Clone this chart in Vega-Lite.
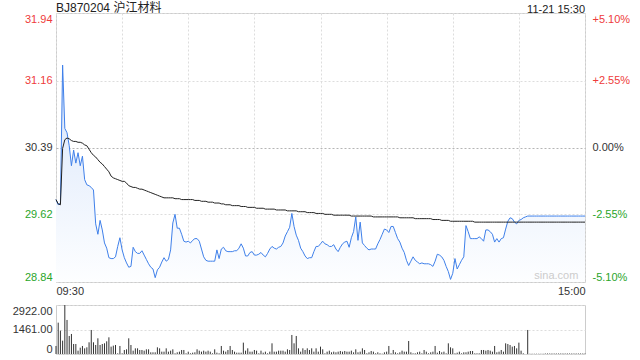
{
  "$schema": "https://vega.github.io/schema/vega-lite/v6.json",
  "background": "white",
  "padding": {"left": 11, "top": 1, "right": 5, "bottom": 2},
  "spacing": 7,
  "config": {
    "view": {"stroke": "#cccccc"},
    "font": "Liberation Sans",
    "axis": {"labelFont": "Liberation Sans", "labelFontSize": 11, "labelColor": "#333333", "ticks": false, "domain": false, "gridColor": "#dddddd", "gridDash": [2, 2]}
  },
  "data": {"values": [
    {"t":0,"p":29.79,"a":29.79,"v":478},{"t":1,"p":29.73,"a":29.74,"v":1870},{"t":2,"p":29.75,"a":29.73,"v":1393},{"t":3,"p":31.34,"a":30.38,"v":796},{"t":4,"p":30.61,"a":30.48,"v":2922},
    {"t":5,"p":30.56,"a":30.50,"v":2030},{"t":6,"p":30.41,"a":30.49,"v":1075},{"t":7,"p":30.18,"a":30.47,"v":1194},{"t":8,"p":30.36,"a":30.46,"v":597},{"t":9,"p":30.21,"a":30.46,"v":597},
    {"t":10,"p":30.33,"a":30.45,"v":199},{"t":11,"p":30.18,"a":30.45,"v":378},{"t":12,"p":30.29,"a":30.44,"v":478},{"t":13,"p":30.02,"a":30.42,"v":338},{"t":14,"p":29.96,"a":30.41,"v":398},
    {"t":15,"p":29.95,"a":30.37,"v":697},{"t":16,"p":29.93,"a":30.33,"v":1433},{"t":17,"p":29.90,"a":30.30,"v":697},{"t":18,"p":29.51,"a":30.28,"v":537},{"t":19,"p":29.39,"a":30.25,"v":935},
    {"t":20,"p":29.55,"a":30.22,"v":537},{"t":21,"p":29.44,"a":30.20,"v":597},{"t":22,"p":29.29,"a":30.17,"v":637},{"t":23,"p":29.23,"a":30.14,"v":756},{"t":24,"p":29.12,"a":30.11,"v":995},
    {"t":25,"p":29.11,"a":30.06,"v":438},{"t":26,"p":29.11,"a":30.04,"v":498},{"t":27,"p":29.13,"a":30.03,"v":537},{"t":28,"p":29.25,"a":30.02,"v":40},{"t":29,"p":29.35,"a":30.01,"v":478},
    {"t":30,"p":29.21,"a":30.00,"v":40},{"t":31,"p":29.12,"a":30.00,"v":239},{"t":32,"p":29.06,"a":29.98,"v":279},{"t":33,"p":29.01,"a":29.95,"v":935},{"t":34,"p":29.02,"a":29.94,"v":537},
    {"t":35,"p":29.24,"a":29.93,"v":199},{"t":36,"p":29.19,"a":29.93,"v":338},{"t":37,"p":29.17,"a":29.92,"v":338},{"t":38,"p":29.17,"a":29.91,"v":239},{"t":39,"p":29.20,"a":29.91,"v":239},
    {"t":40,"p":29.15,"a":29.90,"v":199},{"t":41,"p":29.10,"a":29.89,"v":279},{"t":42,"p":29.05,"a":29.88,"v":279},{"t":43,"p":29.01,"a":29.87,"v":100},{"t":44,"p":28.99,"a":29.86,"v":100},
    {"t":45,"p":28.89,"a":29.85,"v":100},{"t":46,"p":28.98,"a":29.84,"v":398},{"t":47,"p":29.01,"a":29.83,"v":338},{"t":48,"p":29.07,"a":29.82,"v":139},{"t":49,"p":29.12,"a":29.81,"v":139},
    {"t":50,"p":29.08,"a":29.81,"v":338},{"t":51,"p":29.10,"a":29.81,"v":139},{"t":52,"p":29.21,"a":29.81,"v":199},{"t":53,"p":29.52,"a":29.81,"v":279},{"t":54,"p":29.62,"a":29.80,"v":40},
    {"t":55,"p":29.46,"a":29.80,"v":100},{"t":56,"p":29.46,"a":29.80,"v":139},{"t":57,"p":29.39,"a":29.79,"v":239},{"t":58,"p":29.31,"a":29.79,"v":239},{"t":59,"p":29.30,"a":29.79,"v":40},
    {"t":60,"p":29.31,"a":29.79,"v":139},{"t":61,"p":29.29,"a":29.79,"v":40},{"t":62,"p":29.32,"a":29.79,"v":80},{"t":63,"p":29.34,"a":29.78,"v":100},{"t":64,"p":29.34,"a":29.78,"v":279},
    {"t":65,"p":29.31,"a":29.78,"v":199},{"t":66,"p":29.22,"a":29.77,"v":139},{"t":67,"p":29.13,"a":29.77,"v":199},{"t":68,"p":29.09,"a":29.77,"v":139},{"t":69,"p":29.08,"a":29.76,"v":199},
    {"t":70,"p":29.08,"a":29.76,"v":139},{"t":71,"p":29.08,"a":29.76,"v":40},{"t":72,"p":29.08,"a":29.75,"v":279},{"t":73,"p":29.21,"a":29.75,"v":80},{"t":74,"p":29.11,"a":29.75,"v":40},
    {"t":75,"p":29.22,"a":29.74,"v":478},{"t":76,"p":29.24,"a":29.74,"v":199},{"t":77,"p":29.20,"a":29.73,"v":139},{"t":78,"p":29.19,"a":29.73,"v":239},{"t":79,"p":29.19,"a":29.73,"v":478},
    {"t":80,"p":29.19,"a":29.72,"v":239},{"t":81,"p":29.20,"a":29.72,"v":139},{"t":82,"p":29.20,"a":29.72,"v":80},{"t":83,"p":29.23,"a":29.72,"v":80},{"t":84,"p":29.28,"a":29.71,"v":80},
    {"t":85,"p":29.23,"a":29.71,"v":677},{"t":86,"p":29.14,"a":29.71,"v":199},{"t":87,"p":29.14,"a":29.70,"v":338},{"t":88,"p":29.18,"a":29.70,"v":139},{"t":89,"p":29.19,"a":29.70,"v":139},
    {"t":90,"p":29.15,"a":29.70,"v":239},{"t":91,"p":29.15,"a":29.69,"v":199},{"t":92,"p":29.16,"a":29.69,"v":40},{"t":93,"p":29.18,"a":29.69,"v":199},{"t":94,"p":29.15,"a":29.69,"v":80},
    {"t":95,"p":29.13,"a":29.68,"v":139},{"t":96,"p":29.17,"a":29.68,"v":40},{"t":97,"p":29.22,"a":29.68,"v":139},{"t":98,"p":29.25,"a":29.68,"v":637},{"t":99,"p":29.23,"a":29.68,"v":139},
    {"t":100,"p":29.22,"a":29.67,"v":139},{"t":101,"p":29.24,"a":29.67,"v":199},{"t":102,"p":29.25,"a":29.67,"v":199},{"t":103,"p":29.29,"a":29.67,"v":199},{"t":104,"p":29.37,"a":29.67,"v":139},
    {"t":105,"p":29.42,"a":29.66,"v":279},{"t":106,"p":29.47,"a":29.66,"v":239},{"t":107,"p":29.63,"a":29.66,"v":1134},{"t":108,"p":29.48,"a":29.66,"v":637},{"t":109,"p":29.38,"a":29.66,"v":1075},
    {"t":110,"p":29.32,"a":29.65,"v":338},{"t":111,"p":29.23,"a":29.65,"v":139},{"t":112,"p":29.19,"a":29.65,"v":338},{"t":113,"p":29.14,"a":29.65,"v":239},{"t":114,"p":29.11,"a":29.64,"v":338},
    {"t":115,"p":29.12,"a":29.64,"v":239},{"t":116,"p":29.12,"a":29.64,"v":338},{"t":117,"p":29.19,"a":29.64,"v":139},{"t":118,"p":29.25,"a":29.63,"v":338},{"t":119,"p":29.25,"a":29.63,"v":139},
    {"t":120,"p":29.28,"a":29.63,"v":438},{"t":121,"p":29.31,"a":29.63,"v":279},{"t":122,"p":29.28,"a":29.62,"v":40},{"t":123,"p":29.27,"a":29.62,"v":139},{"t":124,"p":29.25,"a":29.62,"v":199},
    {"t":125,"p":29.25,"a":29.62,"v":100},{"t":126,"p":29.27,"a":29.61,"v":139},{"t":127,"p":29.22,"a":29.61,"v":100},{"t":128,"p":29.19,"a":29.61,"v":139},{"t":129,"p":29.24,"a":29.61,"v":179},
    {"t":130,"p":29.28,"a":29.61,"v":139},{"t":131,"p":29.30,"a":29.61,"v":179},{"t":132,"p":29.31,"a":29.61,"v":139},{"t":133,"p":29.24,"a":29.61,"v":139},{"t":134,"p":29.35,"a":29.60,"v":199},
    {"t":135,"p":29.42,"a":29.60,"v":100},{"t":136,"p":29.59,"a":29.60,"v":279},{"t":137,"p":29.32,"a":29.60,"v":100},{"t":138,"p":29.53,"a":29.60,"v":139},{"t":139,"p":29.29,"a":29.60,"v":338},
    {"t":140,"p":29.26,"a":29.60,"v":239},{"t":141,"p":29.23,"a":29.60,"v":40},{"t":142,"p":29.21,"a":29.60,"v":100},{"t":143,"p":29.22,"a":29.60,"v":179},{"t":144,"p":29.22,"a":29.59,"v":139},
    {"t":145,"p":29.22,"a":29.59,"v":40},{"t":146,"p":29.28,"a":29.59,"v":100},{"t":147,"p":29.33,"a":29.59,"v":40},{"t":148,"p":29.39,"a":29.59,"v":20},{"t":149,"p":29.45,"a":29.59,"v":100},
    {"t":150,"p":29.44,"a":29.59,"v":139},{"t":151,"p":29.41,"a":29.59,"v":478},{"t":152,"p":29.48,"a":29.59,"v":40},{"t":153,"p":29.48,"a":29.59,"v":239},{"t":154,"p":29.41,"a":29.59,"v":100},
    {"t":155,"p":29.34,"a":29.59,"v":40},{"t":156,"p":29.30,"a":29.58,"v":100},{"t":157,"p":29.23,"a":29.58,"v":199},{"t":158,"p":29.18,"a":29.58,"v":139},{"t":159,"p":29.09,"a":29.58,"v":139},
    {"t":160,"p":29.03,"a":29.58,"v":776},{"t":161,"p":29.08,"a":29.58,"v":100},{"t":162,"p":29.13,"a":29.58,"v":40},{"t":163,"p":29.09,"a":29.57,"v":40},{"t":164,"p":29.07,"a":29.57,"v":100},
    {"t":165,"p":29.05,"a":29.57,"v":139},{"t":166,"p":29.06,"a":29.57,"v":40},{"t":167,"p":29.05,"a":29.57,"v":239},{"t":168,"p":29.05,"a":29.57,"v":139},{"t":169,"p":29.05,"a":29.57,"v":40},
    {"t":170,"p":29.04,"a":29.57,"v":100},{"t":171,"p":29.02,"a":29.56,"v":139},{"t":172,"p":29.08,"a":29.56,"v":478},{"t":173,"p":29.16,"a":29.56,"v":80},{"t":174,"p":29.15,"a":29.56,"v":179},
    {"t":175,"p":29.13,"a":29.55,"v":100},{"t":176,"p":29.09,"a":29.55,"v":139},{"t":177,"p":29.02,"a":29.55,"v":40},{"t":178,"p":28.96,"a":29.55,"v":637},{"t":179,"p":28.87,"a":29.54,"v":398},
    {"t":180,"p":28.94,"a":29.54,"v":338},{"t":181,"p":29.11,"a":29.54,"v":40},{"t":182,"p":28.99,"a":29.54,"v":80},{"t":183,"p":29.04,"a":29.54,"v":139},{"t":184,"p":29.09,"a":29.54,"v":40},
    {"t":185,"p":29.13,"a":29.54,"v":100},{"t":186,"p":29.49,"a":29.54,"v":100},{"t":187,"p":29.42,"a":29.54,"v":139},{"t":188,"p":29.34,"a":29.54,"v":179},{"t":189,"p":29.34,"a":29.54,"v":179},
    {"t":190,"p":29.34,"a":29.53,"v":40},{"t":191,"p":29.34,"a":29.53,"v":40},{"t":192,"p":29.36,"a":29.53,"v":40},{"t":193,"p":29.34,"a":29.53,"v":239},{"t":194,"p":29.31,"a":29.53,"v":239},
    {"t":195,"p":29.44,"a":29.53,"v":199},{"t":196,"p":29.44,"a":29.53,"v":239},{"t":197,"p":29.42,"a":29.53,"v":199},{"t":198,"p":29.39,"a":29.53,"v":139},{"t":199,"p":29.30,"a":29.53,"v":478},
    {"t":200,"p":29.34,"a":29.53,"v":100},{"t":201,"p":29.30,"a":29.53,"v":139},{"t":202,"p":29.34,"a":29.53,"v":239},{"t":203,"p":29.35,"a":29.53,"v":139},{"t":204,"p":29.45,"a":29.53,"v":637},
    {"t":205,"p":29.54,"a":29.53,"v":597},{"t":206,"p":29.58,"a":29.53,"v":537},{"t":207,"p":29.57,"a":29.53,"v":438},{"t":208,"p":29.53,"a":29.53,"v":478},{"t":209,"p":29.51,"a":29.53,"v":338},
    {"t":210,"p":29.55,"a":29.53,"v":677},{"t":211,"p":29.56,"a":29.53,"v":199},{"t":212,"p":29.58,"a":29.53,"v":40},{"t":213,"p":29.59,"a":29.53,"v":0},{"t":214,"p":29.60,"a":29.53,"v":1433},
    {"t":215,"p":29.60,"a":29.53,"v":15},{"t":216,"p":29.60,"a":29.53,"v":15},{"t":217,"p":29.60,"a":29.53,"v":15},{"t":218,"p":29.60,"a":29.53,"v":15},{"t":219,"p":29.60,"a":29.53,"v":15},
    {"t":220,"p":29.60,"a":29.53,"v":15},{"t":221,"p":29.60,"a":29.53,"v":15},{"t":222,"p":29.60,"a":29.53,"v":30},{"t":223,"p":29.60,"a":29.53,"v":30},{"t":224,"p":29.60,"a":29.53,"v":30},
    {"t":225,"p":29.60,"a":29.53,"v":30},{"t":226,"p":29.60,"a":29.53,"v":30},{"t":227,"p":29.60,"a":29.53,"v":30},{"t":228,"p":29.60,"a":29.53,"v":30},{"t":229,"p":29.60,"a":29.53,"v":30},
    {"t":230,"p":29.60,"a":29.53,"v":30},{"t":231,"p":29.60,"a":29.53,"v":30},{"t":232,"p":29.60,"a":29.53,"v":30},{"t":233,"p":29.60,"a":29.53,"v":30},{"t":234,"p":29.60,"a":29.53,"v":30},
    {"t":235,"p":29.60,"a":29.53,"v":30},{"t":236,"p":29.60,"a":29.53,"v":30},{"t":237,"p":29.60,"a":29.53,"v":30},{"t":238,"p":29.60,"a":29.53,"v":30},{"t":239,"p":29.60,"a":29.53,"v":30},
    {"t":240,"p":29.60,"a":29.53,"v":30}
  ]},
  "vconcat": [
    {
      "width": 529,
      "height": 269,
      "layer": [
        {
          "mark": {"type": "area", "color": {"gradient": "linear", "x1": 1, "x2": 1, "y1": 1, "y2": 0, "stops": [{"offset": 0, "color": "#fdfeff"}, {"offset": 1, "color": "#d8e5fb"}]}},
          "encoding": {
            "x": {"field": "t", "type": "quantitative", "scale": {"domain": [0, 240], "nice": false, "zero": false},
              "axis": {"values": [0, 30, 60, 90, 120, 150, 180, 210, 240], "labelExpr": "datum.value == 0 ? '09:30' : (datum.value == 240 ? '15:00' : '')", "labelFlush": true, "labelOverlap": false, "grid": true, "labelPadding": 3, "title": null}},
            "y": {"field": "p", "type": "quantitative", "scale": {"domain": [28.84, 31.94], "zero": false, "nice": false},
              "axis": {"orient": "left", "values": [28.84, 29.62, 30.39, 31.16, 31.94], "format": ".2f", "labelFlush": true, "labelPadding": 4, "grid": true, "title": null,
                "gridColor": {"condition": {"test": "datum.value == 30.39", "value": "#b5b5b5"}, "value": "#dddddd"},
                "labelColor": {"condition": [{"test": "datum.value > 30.4", "value": "#ee3b3b"}, {"test": "datum.value < 30.38", "value": "#2aa52a"}], "value": "#333333"}}},
            "y2": {"datum": 28.84}
          }
        },
        {
          "mark": {"type": "line", "color": "#3f80ea", "strokeWidth": 1},
          "encoding": {
            "x": {"field": "t", "type": "quantitative"},
            "y": {"field": "p", "type": "quantitative", "axis": null}
          }
        },
        {
          "mark": {"type": "line", "color": "#222222", "strokeWidth": 1},
          "encoding": {
            "x": {"field": "t", "type": "quantitative"},
            "y": {"field": "a", "type": "quantitative",
              "axis": {"orient": "right", "values": [28.84, 29.62, 30.39, 31.16, 31.94], "labelFlush": true, "labelPadding": 7, "grid": false, "title": null,
                "labelExpr": "(datum.value > 30.4 ? '+' : (datum.value < 30.38 ? '-' : '')) + format(abs(round((datum.value - 30.39) / 0.775)) * 2.55, '.2f') + '%'",
                "labelColor": {"condition": [{"test": "datum.value > 30.4", "value": "#ee3b3b"}, {"test": "datum.value < 30.38", "value": "#2aa52a"}], "value": "#333333"}}}
          }
        },
        {
          "data": {"values": [{"label": "BJ870204 沪江材料"}]},
          "mark": {"type": "text", "align": "left", "baseline": "bottom", "dy": 2, "fontSize": 12, "font": "Liberation Sans, Noto Sans CJK SC", "color": "#222222"},
          "encoding": {"x": {"datum": 0, "type": "quantitative"}, "y": {"datum": 31.94, "type": "quantitative", "axis": null}, "text": {"field": "label", "type": "nominal"}}
        },
        {
          "data": {"values": [{"label": "11-21 15:30"}]},
          "mark": {"type": "text", "align": "right", "baseline": "bottom", "dy": 2, "fontSize": 11, "color": "#222222"},
          "encoding": {"x": {"datum": 240, "type": "quantitative"}, "y": {"datum": 31.94, "type": "quantitative", "axis": null}, "text": {"field": "label", "type": "nominal"}}
        },
        {
          "data": {"values": [{"label": "sina.com"}]},
          "mark": {"type": "text", "align": "center", "baseline": "bottom", "dy": -1, "fontSize": 11, "color": "#cccccc"},
          "encoding": {"x": {"datum": 227, "type": "quantitative"}, "y": {"datum": 28.84, "type": "quantitative", "axis": null}, "text": {"field": "label", "type": "nominal"}}
        }
      ],
      "resolve": {"axis": {"y": "independent"}}
    },
    {
      "width": 529,
      "height": 49,
      "mark": {"type": "rule", "color": "#333333", "strokeWidth": 1},
      "encoding": {
        "x": {"field": "t", "type": "quantitative", "scale": {"domain": [0, 240], "nice": false, "zero": false}, "axis": null},
        "y": {"field": "v", "type": "quantitative", "scale": {"domain": [0, 2922], "nice": false},
          "axis": {"values": [0, 1461, 2922], "labelExpr": "datum.value == 0 ? '0' : format(datum.value, '.2f')", "labelFlush": true, "labelPadding": 4, "grid": true, "title": null}},
        "y2": {"datum": 0}
      }
    }
  ]
}
